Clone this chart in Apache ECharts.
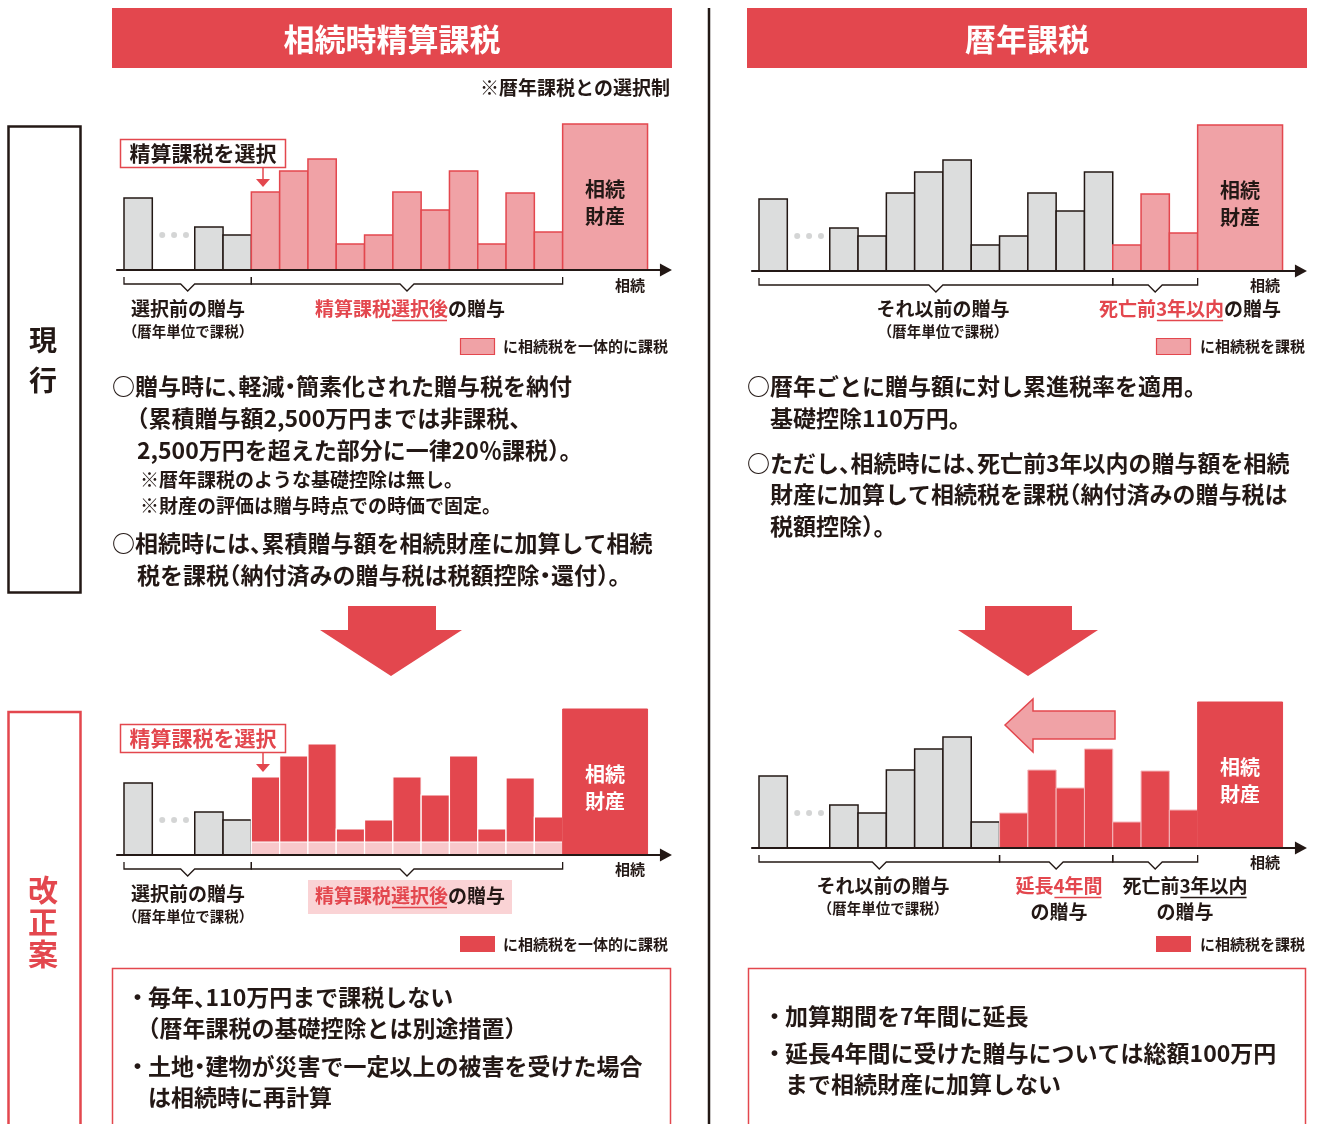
<!DOCTYPE html>
<html><head><meta charset="utf-8">
<script src="https://cdn.jsdelivr.net/npm/echarts@6/dist/echarts.min.js"></script>
<style>html,body{margin:0;padding:0;background:#fff}#c{width:1320px;height:1124px}</style>
</head><body><div id="c"></div>
<script>
// ---------- data ----------
const giftValues = [72, 43, 35, 78, 99, 111, 26, 35, 78, 60, 99, 26, 77, 38];
const estateValue = 146;
const deductionValue = 13;            // 110万円 non-taxed base (改正案・精算課税)
const estateLabel = ['相続', '財産'];
const kindsCurrentSettlement = ['gray','gray','gray','pale','pale','pale','pale','pale','pale','pale','pale','pale','pale','pale'];
const kindsCurrentCalendar   = ['gray','gray','gray','gray','gray','gray','gray','gray','gray','gray','gray','pale','pale','pale'];
const kindsReformSettlement  = ['gray','gray','gray','redBase','redBase','redBase','redBase','redBase','redBase','redBase','redBase','redBase','redBase','redBase'];
const kindsReformCalendar    = ['gray','gray','gray','gray','gray','gray','gray','red','red','red','red','red','red','red'];
const ellipsisDots = [1.35, 1.77, 2.19];
const ellipsisHeight = 35;

// ---------- style ----------
const DARK = '#231815', RED = '#E3474E', PALE = '#F0A2A6', BASEPINK = '#F8C8CB', GRAY = '#DCDDDD';
const FONT = '"Noto Sans CJK JP", "Noto Sans CJK SC", sans-serif';
const W = 'bold';
function font(size, weight) { return (weight || W) + ' ' + size + 'px ' + FONT; }
const mctx = document.createElement('canvas').getContext('2d');
function measure(t, size, weight) { mctx.font = font(size, weight); return mctx.measureText(t).width; }

const KIND_NAMES = ['gray','pale','red','redBase','estatePale','estateRed'];
const KIND_STYLE = {
  gray: {fill: GRAY, stroke: DARK, lw: 1.5},
  pale: {fill: PALE, stroke: RED, lw: 1.5},
  red: {fill: RED, stroke: '#F5B9BC', lw: 1},
  redBase: {fill: RED, stroke: '#fff', lw: 1.2},
  estatePale: {fill: PALE, stroke: RED, lw: 1.5, text: DARK},
  estateRed: {fill: RED, stroke: RED, lw: 1, text: '#fff'}
};

// ---------- layout ----------
const SLOT = 28.3, XMIN = -0.25, XMAX = 19.15, YMAX = 150;
const PANELS = [
  {x0: 124, base: 270, kinds: kindsCurrentSettlement, estate: 'estatePale', brackets: [[0,4.5],[4.5,15.5]]},
  {x0: 759, base: 271, kinds: kindsCurrentCalendar, estate: 'estatePale', brackets: [[0,12.5],[12.5,15.5]]},
  {x0: 124, base: 855, kinds: kindsReformSettlement, estate: 'estateRed', brackets: [[0,4.5],[4.5,15.5]]},
  {x0: 759, base: 848, kinds: kindsReformCalendar, estate: 'estateRed', brackets: [[0,8.5],[8.5,12.5],[12.5,15.5]]}
];

function panelData(p) {
  const d = giftValues.map((v, i) => {
    const x0 = i === 0 ? 0 : i + 1.5;
    return [x0, x0 + 1, v, KIND_NAMES.indexOf(p.kinds[i])];
  });
  d.push([15.5, 18.5, estateValue, KIND_NAMES.indexOf(p.estate)]);
  return d;
}

function renderBar(params, api) {
  const x0 = api.value(0), x1 = api.value(1), v = api.value(2), k = KIND_NAMES[api.value(3)];
  const st = KIND_STYLE[k];
  const tl = api.coord([x0, v]), br = api.coord([x1, 0]);
  const w = br[0] - tl[0];
  const children = [{type: 'rect', shape: {x: tl[0], y: tl[1], width: w, height: br[1] - tl[1]},
    style: {fill: st.fill, stroke: st.stroke, lineWidth: st.lw}}];
  if (k === 'redBase') {
    const bt = api.coord([x0, deductionValue]);
    children.push({type: 'rect', shape: {x: tl[0], y: bt[1], width: w, height: br[1] - bt[1]},
      style: {fill: BASEPINK, stroke: '#fff', lineWidth: 1.2}});
  }
  if (st.text) {
    const cx = (tl[0] + br[0]) / 2;
    children.push({type: 'text', x: cx, y: br[1] - 81, style: {text: estateLabel[0], font: font(20), fill: st.text, textAlign: 'center', textVerticalAlign: 'middle'}});
    children.push({type: 'text', x: cx, y: br[1] - 54, style: {text: estateLabel[1], font: font(20), fill: st.text, textAlign: 'center', textVerticalAlign: 'middle'}});
  }
  return {type: 'group', children};
}

// ---------- graphic helpers ----------
function T(x, y, text, size, color, align, weight) {
  return {type: 'text', x, y, silent: true, z: 10,
    style: {text, font: font(size, weight), fill: color || DARK, textAlign: align || 'left', textVerticalAlign: 'middle'}};
}
// proportional punctuation (palt-like) for body text
const HALF = {'・': 'C', '（': 'R', '）': 'L', '。': 'L', '、': 'L'};
function P(x, y, str, size, color) {
  const runs = []; let buf = '';
  for (const ch of str) {
    if (HALF[ch]) { if (buf) { runs.push({t: buf}); buf = ''; } runs.push({t: ch, h: HALF[ch]}); }
    else buf += ch;
  }
  if (buf) runs.push({t: buf});
  const els = [];
  let cx = x;
  runs.forEach(r => {
    if (r.h) {
      const off = r.h === 'L' ? 0 : r.h === 'R' ? -size / 2 : -size / 4;
      els.push(T(cx + off, y, r.t, size, color, 'left'));
      cx += size / 2;
    } else {
      els.push(T(cx, y, r.t, size, color, 'left'));
      cx += measure(r.t, size);
    }
  });
  return els;
}
function mixed(cx, y, parts, size, align) {
  const widths = parts.map(p => measure(p.t, size));
  const total = widths.reduce((a, b) => a + b, 0);
  let x = align === 'left' ? cx : cx - total / 2;
  const els = [];
  parts.forEach((p, i) => {
    els.push(T(x, y, p.t, size, p.c, 'left'));
    if (p.u) els.push({type: 'line', z: 10, silent: true, shape: {x1: x + 1, y1: y + 11.5, x2: x + widths[i] - 1, y2: y + 11.5}, style: {stroke: p.c, lineWidth: 1.5}});
    x += widths[i];
  });
  return els;
}
function poly(points, fill, stroke, lw) {
  return {type: 'polygon', z: 10, silent: true, shape: {points}, style: {fill, stroke: stroke || null, lineWidth: lw || 0}};
}
function pline(points, stroke, lw) {
  return {type: 'polyline', z: 10, silent: true, shape: {points}, style: {fill: null, stroke, lineWidth: lw}};
}
function R(x, y, w, h, fill, stroke, lw) {
  return {type: 'rect', z: 9, silent: true, shape: {x, y, width: w, height: h}, style: {fill: fill || null, stroke: stroke || null, lineWidth: lw || 0}};
}

const G = [];
// titles
G.push(R(112, 8, 560, 60, RED)); G.push(T(392, 39, '相続時精算課税', 31, '#fff', 'center'));
G.push(R(747, 8, 560, 60, RED)); G.push(T(1027, 39, '暦年課税', 31, '#fff', 'center'));
G.push(T(670, 88, '※暦年課税との選択制', 19, DARK, 'right'));
// divider
G.push({type: 'line', z: 10, silent: true, shape: {x1: 709, y1: 8, x2: 709, y2: 1124}, style: {stroke: DARK, lineWidth: 2.5}});
// side frames
G.push(R(8.5, 126.5, 72, 466, null, DARK, 2.5));
G.push(T(43, 340, '現', 28, DARK, 'center')); G.push(T(43, 380, '行', 28, DARK, 'center'));
G.push(pline([[8.5, 1130], [8.5, 712], [80.5, 712], [80.5, 1130]], RED, 2.5));
G.push(T(43, 890, '改', 30, RED, 'center')); G.push(T(43, 922, '正', 30, RED, 'center')); G.push(T(43, 954, '案', 30, RED, 'center'));

// brackets
PANELS.forEach(p => {
  p.brackets.forEach(b => {
    const xa = p.x0 + b[0] * SLOT, xb = p.x0 + b[1] * SLOT, m = (xa + xb) / 2, y0 = p.base + 7, y1 = p.base + 14, y2 = p.base + 21;
    G.push(pline([[xa, y0], [xa, y1], [m - 7, y1], [m, y2], [m + 7, y1], [xb, y1], [xb, y0]], DARK, 1.3));
  });
});

// panel 1 labels
G.push(T(188, 309, '選択前の贈与', 19, DARK, 'center'));
G.push(T(188, 331, '（暦年単位で課税）', 14.5, DARK, 'center'));
G.push(...mixed(410, 309, [{t: '精算課税', c: RED}, {t: '選択後', c: RED, u: true}, {t: 'の贈与', c: DARK}], 19));
G.push(T(630, 285, '相続', 15, DARK, 'center'));
G.push(R(460.5, 338.5, 34, 16, PALE, RED, 1.2)); G.push(T(503, 346, 'に相続税を一体的に課税', 15, DARK, 'left'));
G.push(R(120.5, 139.5, 165, 28, '#fff', RED, 1.5)); G.push(T(203, 153.5, '精算課税を選択', 21, DARK, 'center'));
G.push({type: 'line', z: 10, silent: true, shape: {x1: 263, y1: 168, x2: 263, y2: 180}, style: {stroke: RED, lineWidth: 1.5}});
G.push(poly([[256, 179], [270, 179], [263, 187]], RED));

// panel 2 labels
G.push(T(943, 309, 'それ以前の贈与', 19, DARK, 'center'));
G.push(T(943, 331, '（暦年単位で課税）', 14.5, DARK, 'center'));
G.push(...mixed(1190, 309, [{t: '死亡前', c: RED}, {t: '3年以内', c: RED, u: true}, {t: 'の贈与', c: DARK}], 19));
G.push(T(1265, 285, '相続', 15, DARK, 'center'));
G.push(R(1156.5, 338.5, 34, 16, PALE, RED, 1.2)); G.push(T(1200, 346, 'に相続税を課税', 15, DARK, 'left'));

// down arrows
G.push(poly([[348, 606], [436, 606], [436, 630], [462, 630], [391, 676], [320, 630], [348, 630]], RED));
G.push(poly([[985, 606], [1072, 606], [1072, 630], [1098, 630], [1028, 676], [958, 630], [985, 630]], RED));

// panel 3 labels
G.push(T(188, 894, '選択前の贈与', 19, DARK, 'center'));
G.push(T(188, 916, '（暦年単位で課税）', 14.5, DARK, 'center'));
G.push(R(308, 880, 204, 34, '#FAD3D5'));
G.push(...mixed(410, 896, [{t: '精算課税', c: RED}, {t: '選択後', c: RED, u: true}, {t: 'の贈与', c: DARK}], 19));
G.push(T(630, 869, '相続', 15, DARK, 'center'));
G.push(R(460, 936, 35, 16, RED)); G.push(T(503, 944, 'に相続税を一体的に課税', 15, DARK, 'left'));
G.push(R(120.5, 724.5, 165, 28, '#fff', RED, 1.5)); G.push(T(203, 738.5, '精算課税を選択', 21, RED, 'center'));
G.push({type: 'line', z: 10, silent: true, shape: {x1: 263, y1: 753, x2: 263, y2: 765}, style: {stroke: RED, lineWidth: 1.5}});
G.push(poly([[256, 764], [270, 764], [263, 772]], RED));

// panel 4 labels
G.push(T(883, 886, 'それ以前の贈与', 19, DARK, 'center'));
G.push(T(883, 908, '（暦年単位で課税）', 14.5, DARK, 'center'));
G.push(...mixed(1059, 886, [{t: '延長', c: RED}, {t: '4年間', c: RED, u: true}], 19));
G.push(T(1059, 912, 'の贈与', 19, DARK, 'center'));
G.push(...mixed(1185, 886, [{t: '死亡前', c: DARK}, {t: '3年以内', c: DARK, u: true}], 19));
G.push(T(1185, 912, 'の贈与', 19, DARK, 'center'));
G.push(T(1265, 862, '相続', 15, DARK, 'center'));
G.push(R(1156, 936, 35, 16, RED)); G.push(T(1200, 944, 'に相続税を課税', 15, DARK, 'left'));
G.push(poly([[1005, 725], [1033, 699], [1033, 711], [1115, 711], [1115, 739], [1033, 739], [1033, 752]], PALE, RED, 1.5));

// body text
G.push(...P(112, 386, '○贈与時に、軽減・簡素化された贈与税を納付', 23));
G.push(...P(137, 418, '（累積贈与額2,500万円までは非課税、', 23));
G.push(...P(137, 450, '2,500万円を超えた部分に一律20％課税）。', 23));
G.push(...P(140, 480, '※暦年課税のような基礎控除は無し。', 19));
G.push(...P(140, 506, '※財産の評価は贈与時点での時価で固定。', 19));
G.push(...P(112, 543, '○相続時には、累積贈与額を相続財産に加算して相続', 23));
G.push(...P(137, 575, '税を課税（納付済みの贈与税は税額控除・還付）。', 23));

G.push(...P(747, 386, '○暦年ごとに贈与額に対し累進税率を適用。', 23));
G.push(...P(770, 418, '基礎控除110万円。', 23));
G.push(...P(747, 463, '○ただし、相続時には、死亡前3年以内の贈与額を相続', 23));
G.push(...P(770, 494, '財産に加算して相続税を課税（納付済みの贈与税は', 23));
G.push(...P(770, 526, '税額控除）。', 23));

G.push(R(112.5, 968.5, 558, 170, null, RED, 1.5));
G.push(T(126, 997, '・', 23)); G.push(...P(148, 997, '毎年、110万円まで課税しない', 23));
G.push(...P(148, 1028, '（暦年課税の基礎控除とは別途措置）', 23));
G.push(T(126, 1066, '・', 23)); G.push(...P(148, 1066, '土地・建物が災害で一定以上の被害を受けた場合', 23));
G.push(...P(148, 1097, 'は相続時に再計算', 23));

G.push(R(748.5, 968.5, 557, 170, null, RED, 1.5));
G.push(T(763, 1016, '・', 23)); G.push(...P(785, 1016, '加算期間を7年間に延長', 23));
G.push(T(763, 1053, '・', 23)); G.push(...P(785, 1053, '延長4年間に受けた贈与については総額100万円', 23));
G.push(...P(785, 1084, 'まで相続財産に加算しない', 23));

// ---------- option ----------
const option = {
  animation: false,
  backgroundColor: '#fff',
  grid: PANELS.map(p => ({left: p.x0 + XMIN * SLOT, top: p.base - YMAX, width: (XMAX - XMIN) * SLOT, height: YMAX})),
  xAxis: PANELS.map((p, i) => ({type: 'value', gridIndex: i, min: XMIN, max: XMAX, z: 3,
    axisLine: {show: true, symbol: ['none', 'triangle'], symbolSize: [13, 12], lineStyle: {color: DARK, width: 2}},
    axisTick: {show: false}, axisLabel: {show: false}, splitLine: {show: false}})),
  yAxis: PANELS.map((p, i) => ({type: 'value', gridIndex: i, min: 0, max: YMAX, show: false})),
  series: [].concat(
    PANELS.map((p, i) => ({type: 'custom', xAxisIndex: i, yAxisIndex: i, clip: false, silent: true,
      renderItem: renderBar, encode: {x: [0, 1], y: 2}, data: panelData(p)})),
    PANELS.map((p, i) => ({type: 'scatter', xAxisIndex: i, yAxisIndex: i, silent: true, symbolSize: 6,
      itemStyle: {color: '#C9CACA'}, data: ellipsisDots.map(x => [x, ellipsisHeight])}))
  ),
  graphic: {elements: G}
};
const chart = echarts.init(document.getElementById('c'), null, {renderer: 'canvas'});
chart.setOption(option);
</script></body></html>
